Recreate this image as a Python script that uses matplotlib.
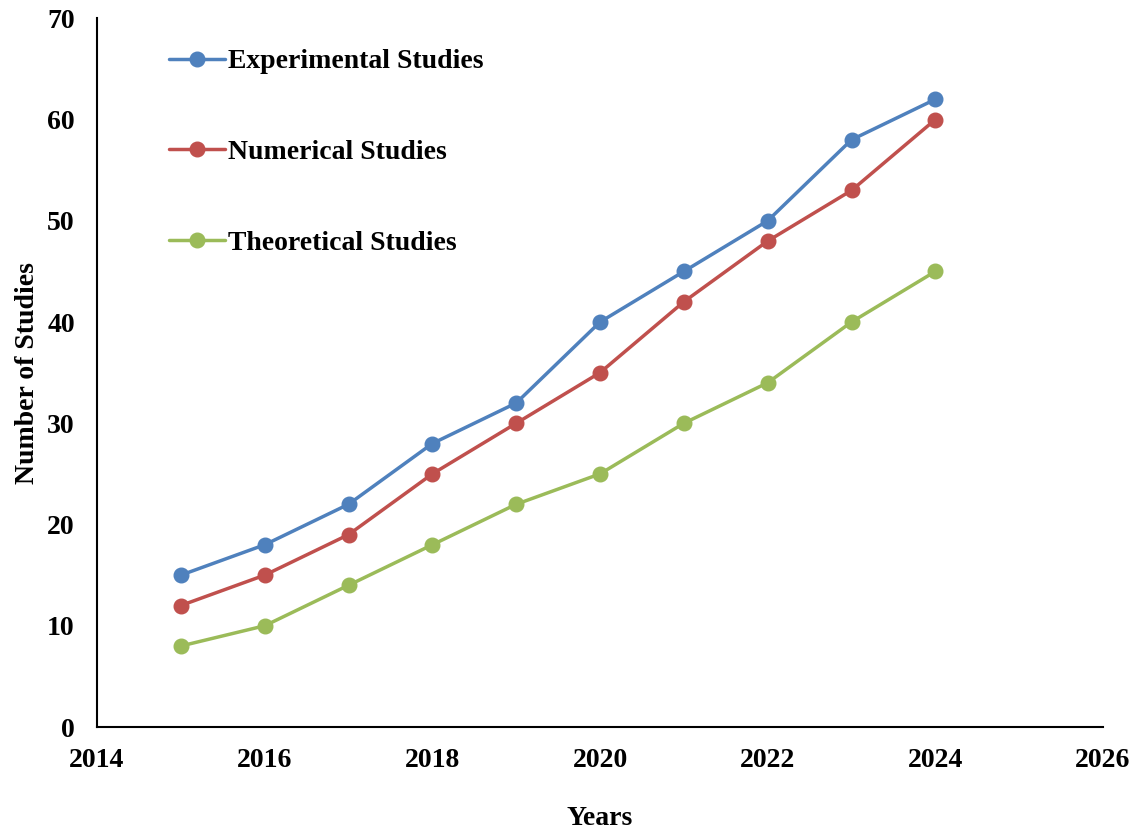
import matplotlib
matplotlib.use("Agg")
import matplotlib.pyplot as plt

years = [2015, 2016, 2017, 2018, 2019, 2020, 2021, 2022, 2023, 2024]
experimental = [15, 18, 22, 28, 32, 40, 45, 50, 58, 62]
numerical = [12, 15, 19, 25, 30, 35, 42, 48, 53, 60]
theoretical = [8, 10, 14, 18, 22, 25, 30, 34, 40, 45]

x_ticks = [2014, 2016, 2018, 2020, 2022, 2024, 2026]
y_ticks = [0, 10, 20, 30, 40, 50, 60, 70]

plt.rcParams['font.family'] = ['Liberation Serif', 'DejaVu Serif']
plt.rcParams['font.weight'] = 'bold'

fig = plt.figure(figsize=(11.43, 8.32), dpi=100)
ax = fig.add_axes([0.0849, 0.1262, 0.8801, 0.8518])

series = [
    (experimental, "Experimental Studies", "#4F81BD"),
    (numerical, "Numerical Studies", "#C0504D"),
    (theoretical, "Theoretical Studies", "#9BBB59"),
]
for vals, name, col in series:
    ax.plot(years, vals, color=col, lw=2.5, marker='o', ms=10.5,
            label=name, solid_capstyle='round')

ax.set_xlim(2014, 2026)
ax.set_ylim(0, 70)
ax.set_xticks(x_ticks)
ax.set_yticks(y_ticks)
ax.tick_params(length=0, labelsize=20)
ax.tick_params(axis='x', pad=15)
ax.tick_params(axis='y', pad=16)
for lab in ax.get_xticklabels() + ax.get_yticklabels():
    lab.set_fontweight('bold')

for s in ['top', 'right']:
    ax.spines[s].set_visible(False)
for s in ['left', 'bottom']:
    ax.spines[s].set_linewidth(1.5)

ax.set_xlabel("Years", fontsize=20, fontweight='bold', labelpad=24)
ax.set_ylabel("Number of Studies", fontsize=20, fontweight='bold', labelpad=5)

leg = ax.legend(loc='upper left', bbox_to_anchor=(0.047, 0.992), frameon=False,
                prop={'size': 20, 'weight': 'bold'}, labelspacing=2.35,
                handlelength=2.0, handletextpad=0.1)

fig.savefig("out.png", dpi=100)
